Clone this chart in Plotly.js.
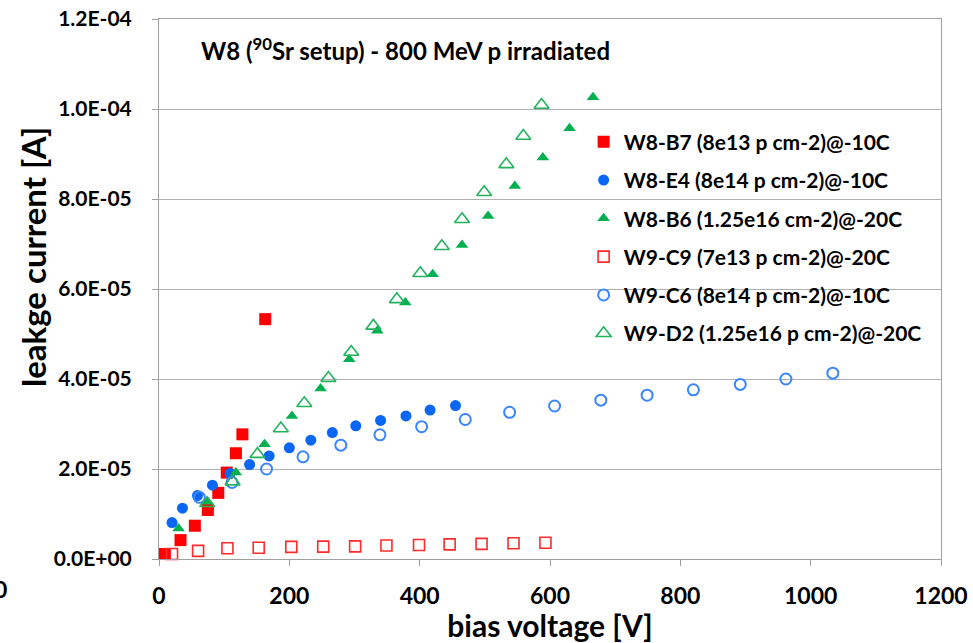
<!DOCTYPE html>
<html>
<head>
<meta charset="utf-8">
<script src="https://cdn.plot.ly/plotly-3.0.1.min.js"></script>
<style>html,body{margin:0;padding:0;background:#fff;}#chart{width:973px;height:643px;}</style>
</head>
<body>
<div id="chart"></div>
<script>
// ---- data ----
const seriesNames = [
  "W8-B7 (8e13 p cm-2)@-10C",
  "W8-E4 (8e14 p cm-2)@-10C",
  "W8-B6 (1.25e16 cm-2)@-20C",
  "W9-C9 (7e13 p cm-2)@-20C",
  "W9-C6 (8e14 p cm-2)@-10C",
  "W9-D2 (1.25e16 p cm-2)@-20C"
];

const b7_V = [9, 33, 55, 75, 91, 104, 118, 128, 163];
const b7_I = [1.1e-6, 4.2e-6, 7.4e-6, 1.09e-5, 1.47e-5, 1.92e-5, 2.35e-5, 2.77e-5, 5.33e-5];

const e4_V = [20, 36, 59, 82, 109, 139, 169, 200, 233, 266, 302, 340, 379, 416, 455];
const e4_I = [8.1e-6, 1.13e-5, 1.41e-5, 1.64e-5, 1.90e-5, 2.10e-5, 2.29e-5, 2.47e-5, 2.64e-5, 2.81e-5, 2.96e-5, 3.08e-5, 3.18e-5, 3.31e-5, 3.41e-5];

const b6_V = [30, 74, 118, 162, 204, 248, 292, 335, 378, 420, 465, 505, 546, 589, 630, 666];
const b6_I = [6.8e-6, 1.27e-5, 1.92e-5, 2.55e-5, 3.18e-5, 3.79e-5, 4.44e-5, 5.07e-5, 5.70e-5, 6.33e-5, 6.98e-5, 7.62e-5, 8.29e-5, 8.92e-5, 9.57e-5, 1.026e-4];

const c9_V = [20, 60, 105, 153, 203, 252, 301, 349, 399, 446, 495, 544, 593];
const c9_I = [1.1e-6, 1.8e-6, 2.4e-6, 2.5e-6, 2.7e-6, 2.75e-6, 2.8e-6, 3.0e-6, 3.1e-6, 3.25e-6, 3.35e-6, 3.5e-6, 3.6e-6];

const c6_V = [62, 112, 165, 221, 279, 339, 403, 470, 538, 607, 678, 749, 820, 892, 962, 1034];
const c6_I = [1.37e-5, 1.70e-5, 2.00e-5, 2.27e-5, 2.53e-5, 2.76e-5, 2.94e-5, 3.10e-5, 3.26e-5, 3.40e-5, 3.53e-5, 3.64e-5, 3.76e-5, 3.88e-5, 4.00e-5, 4.13e-5];

const d2_V = [74, 113, 151, 187, 223, 260, 295, 329, 365, 401, 434, 465, 499, 533, 559, 587];
const d2_I = [1.24e-5, 1.72e-5, 2.33e-5, 2.90e-5, 3.46e-5, 4.02e-5, 4.60e-5, 5.18e-5, 5.77e-5, 6.35e-5, 6.95e-5, 7.55e-5, 8.15e-5, 8.77e-5, 9.40e-5, 1.009e-4];

const yTickVals = [0, 2e-5, 4e-5, 6e-5, 8e-5, 1e-4, 1.2e-4];
const yTickText = ["0.0E+00", "2.0E-05", "4.0E-05", "6.0E-05", "8.0E-05", "1.0E-04", "1.2E-04"];
const xTickVals = [0, 200, 400, 600, 800, 1000, 1200];

const chartTitle = "W8 (<sup>90</sup>Sr setup) - 800 MeV p irradiated";
const xTitle = "bias voltage [V]";
const yTitle = "leakge current [A]";

// ---- styling ----
const RED = "#ff0000", BLUE = "#0a66f5", GREEN = "#00b050";
const FONT = "Lato, 'Open Sans', sans-serif";

function tr(i, xs, ys, symbol, color, size, lw) {
  return {
    type: "scatter", mode: "markers", x: xs, y: ys, name: seriesNames[i],
    legendgroup: "g" + i,
    marker: {symbol: symbol, color: color, size: size, line: {width: lw, color: color}},
    cliponaxis: false,
    hoverinfo: "x+y+name"
  };
}

const data = [
  tr(0, b7_V, b7_I, "square", RED, 12, 0),
  tr(1, e4_V, e4_I, "circle", BLUE, 11, 0),
  tr(2, b6_V, b6_I, "triangle-up", GREEN, 11, 0),
  tr(3, c9_V, c9_I, "square-open", "#ff2a2a", 11, 1.6),
  tr(4, c6_V, c6_I, "circle-open", "#3a86ff", 11, 2),
  tr(5, d2_V, d2_I, "triangle-up-open", "#22b35c", 13, 1.6)
];

const layout = {
  width: 973, height: 643,
  margin: {l: 159, r: 32, t: 19, b: 84, pad: 0},
  paper_bgcolor: "#ffffff", plot_bgcolor: "#ffffff",
  font: {family: FONT, color: "#000"},
  showlegend: true,
  legend: {
    x: 0.543, xanchor: "left", y: 0.81, yanchor: "top",
    bgcolor: "rgba(0,0,0,0)", borderwidth: 0,
    font: {family: FONT, size: 21, weight: "bold", color: "#000"},
    traceorder: "grouped", tracegroupgap: 8
  },
  xaxis: {
    range: [0, 1200], tickvals: xTickVals, ticks: "outside", ticklen: 6, tickcolor: "#a0a0a0",
    showgrid: false, zeroline: false, showline: true, linecolor: "#a0a0a0", linewidth: 1, mirror: true,
    tickfont: {family: FONT, size: 23, weight: "bold", color: "#000"},
    ticklabelstandoff: 10,
    title: {text: xTitle, font: {family: FONT, size: 30, weight: "bold", color: "#000"}, standoff: 4}
  },
  yaxis: {
    range: [0, 1.2e-4], tickvals: yTickVals, ticktext: yTickText, ticks: "outside", ticklen: 6, tickcolor: "#a0a0a0",
    showgrid: true, gridcolor: "#b0b0b0", gridwidth: 1, zeroline: false,
    showline: true, linecolor: "#a0a0a0", linewidth: 1, mirror: true,
    tickfont: {family: FONT, size: 21, weight: "bold", color: "#000"},
    ticklabelstandoff: 16
  },
  annotations: [
    {text: chartTitle, xref: "paper", yref: "paper", x: (199 - 159) / 782, y: (559 - 49) / 540,
     xanchor: "left", yanchor: "middle", showarrow: false,
     font: {family: FONT, size: 24, weight: "bold", color: "#000"}},
    {text: yTitle, xref: "paper", yref: "paper", x: (33 - 159) / 782, y: (559 - 257) / 540,
     xanchor: "center", yanchor: "middle", textangle: -90, showarrow: false,
     font: {family: FONT, size: 33, weight: "bold", color: "#000"}},
    {text: "0", xref: "paper", yref: "paper", x: (9 - 159) / 782, y: (559 - 589) / 540,
     xanchor: "right", yanchor: "middle", showarrow: false,
     font: {family: FONT, size: 23, weight: "bold", color: "#000"}}
  ]
};

Plotly.newPlot("chart", data, layout, {displayModeBar: false, staticPlot: true});
</script>
</body>
</html>
